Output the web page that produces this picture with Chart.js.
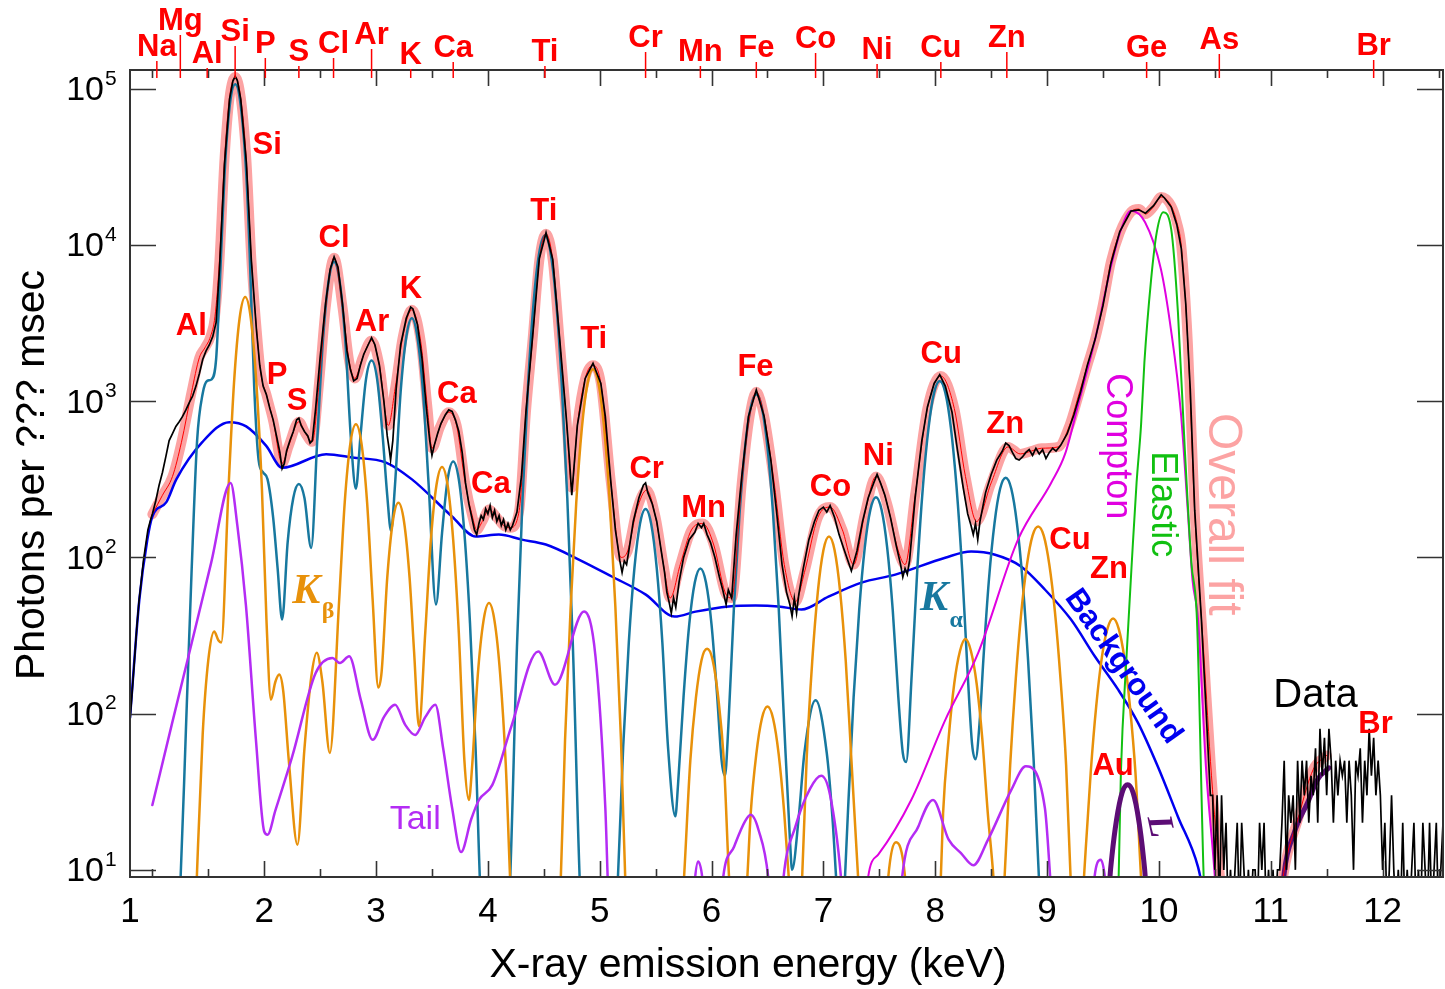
<!DOCTYPE html>
<html>
<head>
<meta charset="utf-8">
<script src="https://cdn.jsdelivr.net/npm/chart.js@4.4.1/dist/chart.umd.min.js"></script>
<style>
  html, body { margin: 0; padding: 0; background: #fff; }
  canvas { display: block; }
</style>
</head>
<body>
<canvas id="chart" width="1445" height="989" style="width:1445px;height:989px"></canvas>
<script>
// values: [energy keV, photons]
const fitCurve = [[1.00,189],[1.09,250],[1.18,330],[1.26,546],[1.35,1140],[1.42,1900],[1.47,2200],[1.52,2600],[1.56,3500],[1.60,8000],[1.645,35500],[1.69,88000],[1.741,119000],[1.79,88000],[1.84,35500],[1.885,8100],[1.93,3000],[1.97,1500],[2.02,1100],[2.08,750],[2.16,400],[2.22,520],[2.31,740],[2.37,620],[2.43,550],[2.49,1300],[2.55,4000],[2.625,8300],[2.70,4000],[2.76,1800],[2.81,1400],[2.88,1900],[2.96,2450],[3.03,1700],[3.11,700],[3.17,1200],[3.24,2600],[3.32,3850],[3.40,2400],[3.46,900],[3.50,500],[3.57,680],[3.65,850],[3.72,700],[3.80,290],[3.86,185],[3.90,150],[3.95,170],[4.01,203],[4.08,180],[4.14,160],[4.20,155],[4.28,200],[4.34,850],[4.40,2500],[4.46,8000],[4.518,11800],[4.58,8000],[4.64,2500],[4.70,800],[4.75,280],[4.80,700],[4.87,1400],[4.94,1700],[5.01,1300],[5.10,300],[5.19,100],[5.25,110],[5.33,200],[5.42,270],[5.50,180],[5.57,90],[5.63,55],[5.72,90],[5.82,150],[5.92,165],[6.02,120],[6.12,60],[6.18,55],[6.27,300],[6.34,800],[6.40,1150],[6.47,800],[6.56,300],[6.65,90],[6.75,52],[6.83,80],[6.95,180],[7.06,210],[7.17,150],[7.27,90],[7.37,190],[7.47,330],[7.57,220],[7.67,110],[7.73,90],[7.82,250],[7.93,900],[8.05,1450],[8.17,900],[8.27,330],[8.37,170],[8.50,300],[8.65,510],[8.76,460],[8.86,480],[8.95,500],[9.10,510],[9.20,700],[9.28,1080],[9.36,1700],[9.43,2500],[9.50,4200],[9.57,7800],[9.65,12000],[9.75,16300],[9.82,17000],[9.88,15800],[9.95,17500],[10.02,20300],[10.11,17800],[10.16,14000],[10.20,9860],[10.26,2250],[10.32,194],[10.40,25],[10.47,4],[10.54,1],[10.60,0.4],[11.06,0.4],[11.10,0.8],[11.25,2.2],[11.38,4.4],[11.50,5.4]];

const dataMain = [[0.80,9],[0.82,14],[0.84,22],[0.86,35],[0.88,52],[0.90,70],[0.92,95],[0.94,120],[0.96,150],[0.98,170],[1.00,190],[1.03,230],[1.06,290],[1.09,350],[1.12,440],[1.15,560],[1.18,620],[1.21,690],[1.24,740],[1.27,800],[1.30,880],[1.33,980],[1.36,1080],[1.39,1250],[1.42,1500],[1.45,1850],[1.48,2100],[1.51,2300],[1.54,2600],[1.57,3200],[1.60,7000],[1.645,33000],[1.69,86000],[1.72,112000],[1.741,120000],[1.76,113000],[1.79,86000],[1.84,34000],[1.885,8000],[1.93,2900],[1.96,1700],[1.99,1250],[2.02,1100],[2.05,900],[2.08,760],[2.11,600],[2.14,470],[2.16,370],[2.18,400],[2.20,480],[2.23,560],[2.26,640],[2.29,760],[2.31,780],[2.33,700],[2.36,640],[2.39,600],[2.41,540],[2.43,560],[2.46,900],[2.50,1900],[2.55,4300],[2.59,7000],[2.625,8400],[2.66,7200],[2.70,4200],[2.74,2100],[2.77,1600],[2.80,1350],[2.83,1400],[2.86,1700],[2.89,2000],[2.93,2300],[2.96,2550],[2.99,2300],[3.03,1700],[3.07,1000],[3.10,600],[3.12,480],[3.13,420],[3.15,560],[3.18,1200],[3.22,2300],[3.27,3400],[3.31,4000],[3.33,3900],[3.37,3100],[3.41,1900],[3.45,900],[3.48,560],[3.50,450],[3.52,520],[3.55,620],[3.58,720],[3.62,820],[3.65,880],[3.68,860],[3.71,760],[3.74,640],[3.77,470],[3.80,300],[3.83,220],[3.86,175],[3.88,150],[3.90,140],[3.92,165],[3.94,185],[3.96,175],[3.98,205],[4.00,190],[4.02,215],[4.04,180],[4.06,200],[4.08,170],[4.10,185],[4.12,160],[4.14,175],[4.16,150],[4.18,165],[4.20,150],[4.22,160],[4.26,195],[4.30,330],[4.34,850],[4.40,2600],[4.46,8200],[4.52,12000],[4.58,8100],[4.64,2600],[4.70,800],[4.73,420],[4.75,250],[4.77,380],[4.80,700],[4.87,1400],[4.94,1750],[5.01,1300],[5.05,800],[5.10,300],[5.14,150],[5.16,120],[5.18,95],[5.20,80],[5.22,95],[5.24,90],[5.26,110],[5.30,170],[5.35,240],[5.39,290],[5.41,300],[5.43,260],[5.47,220],[5.51,170],[5.55,110],[5.58,80],[5.60,60],[5.62,52],[5.64,44],[5.66,55],[5.68,48],[5.71,70],[5.75,100],[5.80,130],[5.85,145],[5.88,165],[5.91,155],[5.93,165],[5.96,140],[5.99,125],[6.03,100],[6.07,75],[6.10,62],[6.13,50],[6.15,62],[6.18,55],[6.22,140],[6.27,330],[6.33,800],[6.40,1180],[6.47,800],[6.53,420],[6.58,200],[6.63,90],[6.67,60],[6.70,50],[6.72,42],[6.74,55],[6.76,44],[6.78,58],[6.82,85],[6.87,130],[6.92,170],[6.96,200],[7.00,210],[7.03,195],[7.06,215],[7.10,180],[7.14,140],[7.18,115],[7.22,95],[7.25,82],[7.27,92],[7.30,110],[7.35,170],[7.40,240],[7.45,300],[7.48,340],[7.51,300],[7.55,250],[7.60,180],[7.65,120],[7.69,90],[7.71,75],[7.73,85],[7.75,78],[7.77,95],[7.82,240],[7.88,560],[7.93,920],[7.99,1300],[8.04,1480],[8.09,1250],[8.15,850],[8.20,480],[8.25,280],[8.29,190],[8.32,160],[8.34,140],[8.36,165],[8.38,130],[8.40,170],[8.45,260],[8.50,340],[8.55,420],[8.60,480],[8.63,540],[8.66,520],[8.69,470],[8.72,430],[8.75,420],[8.78,440],[8.81,470],[8.84,490],[8.87,450],[8.90,500],[8.93,460],[8.96,490],[8.99,430],[9.02,470],[9.05,500],[9.08,480],[9.12,520],[9.18,620],[9.24,820],[9.30,1150],[9.36,1700],[9.43,2500],[9.50,4100],[9.57,7600],[9.65,12200],[9.75,16500],[9.82,16800],[9.88,16000],[9.95,17800],[10.02,21000],[10.05,20000],[10.11,17500],[10.16,13500],[10.20,9500],[10.24,4200],[10.28,1200],[10.32,200],[10.38,40],[10.43,8],[10.46,3]];

// counts past the elastic peak, one every 0.02 keV from 10.48 keV (0.5 = empty channel)
const tailStart = 10.48, tailStep = 0.02;
const dataTail = [3,1,3,0.5,3,1,2,0.5,1,0.5,
  1,2,0.5,2,1,0.5,1,0.5,1,1,
  0.5,2,1,2,0.5,1,0.5,1,0.5,1,
  1,2,5,1,3,2,3,1,5,2,
  5,3,5,2,4,3,6,2,8,4,
  7,3,8,5,2,5,3,5,4,5,
  2,5,3,1,5,4,6,2,5,3,
  8,4,7,3,5,3,1,2,0.5,1,
  3,1,0.5,1,0.5,2,0.5,1,0.5,1,
  2,0.5,1,0.5,2,1,0.5,2,0.5,1,
  2,0.5,1,2];

const background = [[0.80,9.4],[0.884,54],[0.955,130],[1.0,183],[1.125,226],[1.214,316],[1.446,547],[1.688,735],[1.839,690],[2.018,518],[2.161,375],[2.554,458],[2.786,437],[3.089,405],[3.321,316],[3.679,183],[3.892,136],[4.098,140],[4.304,130],[4.518,121],[4.813,97],[5.108,75.5],[5.412,57.8],[5.67,41.8],[5.857,45],[6.152,48.6],[6.393,49.3],[6.598,48.6],[6.804,46.4],[7.045,56.1],[7.34,69],[7.643,77.6],[8.089,99.6],[8.321,109],[8.535,104],[8.767,87.6],[8.982,62.1],[9.214,40],[9.428,23.2],[9.634,14.3],[9.812,8.76],[9.991,4.57],[10.17,2.19],[10.35,1.04],[10.44,0.5]];

const kAlpha = [[1.22,0.4],[1.25,0.8],[1.30,7.9],[1.35,79],[1.40,560],[1.45,1120],[1.49,1350],[1.53,1380],[1.57,1860],[1.60,5000],[1.645,28000],[1.69,76000],[1.741,107000],[1.79,78000],[1.84,28000],[1.87,8900],[1.91,1260],[1.95,420],[1.99,350],[2.03,316],[2.08,180],[2.12,85],[2.16,40],[2.21,126],[2.26,240],[2.31,295],[2.36,240],[2.42,115],[2.475,580],[2.525,2450],[2.575,5800],[2.625,7800],[2.675,5800],[2.725,2450],[2.775,580],[2.82,275],[2.86,590],[2.91,1380],[2.96,1820],[3.01,1380],[3.06,590],[3.10,250],[3.134,148],[3.17,295],[3.22,1150],[3.27,2570],[3.32,3400],[3.37,2570],[3.42,1150],[3.47,295],[3.536,50],[3.59,143],[3.64,316],[3.69,412],[3.74,316],[3.79,143],[3.84,38],[3.89,6],[3.94,0.55],[3.97,0.4],[4.16,0.4],[4.19,0.6],[4.26,27],[4.31,240],[4.36,1300],[4.41,4400],[4.46,9000],[4.51,11500],[4.56,9000],[4.61,4400],[4.66,1300],[4.71,240],[4.76,27],[4.83,0.6],[4.86,0.4],[5.13,0.4],[5.16,0.8],[5.21,6.2],[5.26,28.5],[5.31,85],[5.36,164],[5.41,204],[5.46,164],[5.51,85],[5.56,28.5],[5.61,6.2],[5.676,2.2],[5.70,3.5],[5.75,13],[5.80,37],[5.85,69],[5.90,85],[5.95,69],[6.00,37],[6.05,13],[6.09,5],[6.12,4],[6.15,8.3],[6.20,48],[6.25,190],[6.30,507],[6.35,912],[6.40,1110],[6.45,912],[6.50,507],[6.55,190],[6.60,48],[6.65,8.3],[6.70,1.6],[6.72,1.0],[6.78,2.2],[6.83,5.6],[6.93,12.2],[7.03,5.6],[7.08,2.2],[7.13,0.6],[7.16,0.4],[7.17,0.4],[7.19,0.8],[7.22,2.4],[7.27,12.7],[7.32,46],[7.37,116],[7.42,202],[7.47,243],[7.52,202],[7.57,116],[7.62,46],[7.67,12.7],[7.71,5.6],[7.74,4.9],[7.79,18],[7.84,85],[7.89,285],[7.94,676],[7.99,1135],[8.04,1350],[8.09,1135],[8.14,676],[8.19,285],[8.24,85],[8.29,18],[8.33,6.3],[8.36,5.1],[8.40,9.5],[8.43,22],[8.48,72],[8.53,166],[8.58,275],[8.63,324],[8.68,275],[8.73,166],[8.78,72],[8.83,22],[8.88,5],[8.93,0.8],[8.96,0.4]];

const kBeta = [[1.38,0.4],[1.40,1.0],[1.45,7.4],[1.50,22],[1.553,33.6],[1.59,29.5],[1.616,28.5],[1.68,270],[1.73,1310],[1.78,3400],[1.83,4650],[1.88,3400],[1.93,1310],[1.98,270],[2.02,40],[2.06,12.3],[2.10,16],[2.134,17.8],[2.17,14],[2.22,5],[2.297,1.45],[2.36,6],[2.42,17],[2.47,24.5],[2.52,16],[2.587,5.6],[2.67,53],[2.72,225],[2.77,535],[2.82,713],[2.87,535],[2.92,225],[2.97,53],[3.02,14.7],[3.05,18.6],[3.10,74],[3.15,170],[3.20,224],[3.25,170],[3.30,74],[3.34,25],[3.384,8.3],[3.44,33],[3.49,129],[3.54,290],[3.59,380],[3.64,290],[3.69,129],[3.74,33],[3.79,5],[3.83,2.8],[3.86,4.7],[3.91,17.8],[3.96,39],[4.01,51],[4.06,39],[4.11,17.8],[4.16,4.7],[4.21,0.6],[4.25,0.4],[4.62,0.4],[4.65,0.8],[4.69,6.8],[4.74,48],[4.79,224],[4.84,670],[4.89,1290],[4.94,1600],[4.99,1290],[5.04,670],[5.09,224],[5.14,48],[5.19,6.8],[5.23,0.8],[5.26,0.4],[5.72,0.4],[5.75,0.8],[5.81,5],[5.86,12.6],[5.91,22],[5.96,26],[6.01,22],[6.06,12.6],[6.11,5],[6.16,0.8],[6.20,0.4],[6.29,0.4],[6.32,0.9],[6.35,2.3],[6.40,5.5],[6.45,9.3],[6.50,11.1],[6.55,9.3],[6.60,5.5],[6.65,2.3],[6.69,0.9],[6.72,0.4],[6.78,0.4],[6.81,0.9],[6.85,5.1],[6.90,21.6],[6.95,60],[7.00,111],[7.05,136],[7.10,111],[7.15,60],[7.20,21.6],[7.25,5.1],[7.31,0.9],[7.34,0.4],[7.55,0.4],[7.58,0.9],[7.65,1.5],[7.73,0.9],[7.76,0.4],[8.02,0.4],[8.05,0.9],[8.07,2.3],[8.12,7],[8.17,15.6],[8.22,25],[8.27,30],[8.32,25],[8.37,15.6],[8.42,7],[8.47,2.3],[8.52,0.9],[8.55,0.4],[8.59,0.4],[8.62,0.9],[8.67,4.7],[8.72,16.7],[8.77,45],[8.82,90],[8.87,138],[8.92,158],[8.97,138],[9.02,90],[9.07,45],[9.12,16.7],[9.17,4.7],[9.21,0.9],[9.24,0.4],[9.30,0.4],[9.33,0.9],[9.39,4.2],[9.44,11.3],[9.49,23],[9.54,35],[9.59,40.6],[9.64,35],[9.69,23],[9.74,11.3],[9.79,4.2],[9.84,0.9],[9.87,0.4]];

const tailComp = [[1.00,2.6],[1.175,8.6],[1.35,28],[1.525,92],[1.70,300],[1.76,160],[1.837,49],[1.926,6.8],[2.0,1.76],[2.03,1.68],[2.10,2.4],[2.25,5.3],[2.46,18.2],[2.61,22.7],[2.677,21.1],[2.76,23.3],[2.863,12.3],[2.97,6.8],[3.07,9.5],[3.17,11.4],[3.26,8.5],[3.35,7.3],[3.44,9.5],[3.53,11.4],[3.60,6],[3.68,2.5],[3.76,1.3],[3.85,2.1],[3.92,2.8],[4.04,3.5],[4.21,8.3],[4.45,25],[4.60,15.3],[4.86,45],[4.962,23.3],[5.05,2.5],[5.08,0.6],[5.10,0.4],[5.82,0.4],[5.85,0.85],[5.88,1.13],[5.92,0.85],[5.95,0.4],[6.07,0.4],[6.10,0.85],[6.20,1.4],[6.30,2.05],[6.35,2.25],[6.42,1.8],[6.51,0.85],[6.54,0.4],[6.61,0.4],[6.64,0.85],[6.75,1.9],[6.88,3.3],[6.98,4.0],[7.06,3.0],[7.16,0.85],[7.19,0.4],[7.67,0.4],[7.70,0.85],[7.85,1.9],[7.98,2.8],[8.12,1.56],[8.23,1.28],[8.34,1.07],[8.47,1.55],[8.68,3.25],[8.81,4.6],[8.98,2.5],[9.03,0.85],[9.06,0.4],[9.39,0.4],[9.42,0.85],[9.48,1.16],[9.52,0.85],[9.55,0.4]];

const compton = [[7.37,0.4],[7.40,0.9],[7.49,1.25],[7.785,2.8],[8.089,9.1],[8.384,24.5],[8.74,130],[9.036,300],[9.161,460],[9.278,950],[9.43,2500],[9.571,7300],[9.66,12500],[9.75,16600],[9.876,14000],[10.018,7000],[10.107,2900],[10.196,850],[10.259,195],[10.30,72],[10.35,40],[10.42,4.6],[10.50,0.9],[10.53,0.4]];

const elastic = [[9.62,0.4],[9.64,0.9],[9.66,4.2],[9.71,23],[9.76,100],[9.80,300],[9.84,700],[9.87,1770],[9.93,6000],[9.98,12000],[10.04,16200],[10.11,12600],[10.17,3700],[10.23,515],[10.29,93],[10.34,40],[10.40,0.9],[10.42,0.4]];

const auL = [[9.54,0.4],[9.56,0.85],[9.58,1.23],[9.62,2.07],[9.67,3.1],[9.72,3.5],[9.77,3.1],[9.82,2.07],[9.86,1.23],[9.88,0.85],[9.90,0.4]];
const brL = [[11.08,0.4],[11.12,0.95],[11.21,1.73],[11.33,2.7],[11.42,3.8],[11.52,4.5]];

const xTicks = [0.8, 2, 3, 4, 5, 6, 7, 8, 9, 10, 11, 12];
const xTickText = ['1','2','3','4','5','6','7','8','9','10','11','12'];
const yTicks = [1, 10, 100, 1000, 10000, 100000];
const yTickExp = ['1','2','2','3','4','5'];

const elements = ['Na','Mg','Al','Si','P','S','Cl','Ar','K','Ca','Ti','Cr','Mn','Fe','Co','Ni','Cu','Zn','Ge','As','Br'];
const elementKeV = [1.04,1.25,1.49,1.74,2.01,2.31,2.62,2.96,3.31,3.69,4.51,5.41,5.90,6.40,6.93,7.48,8.05,8.64,9.89,10.54,11.92];
const elementLabelY = [47,21,54,32,44,52,44,35,55,48,52,38,52,48,39,50,48,38,48,40,46];

// peak names inside the plot: [text, keV, photons]
const peakLabels = [['Al',1.348,3030],['Si',2.027,43100],['P',2.116,1470],['S',2.295,1000],['Cl',2.625,11100],['Ar',2.964,3210],['K',3.312,5220],['Ca',3.723,1110],['Ca',4.027,294],['Ti',4.50,16500],['Ti',4.946,2500],['Cr',5.42,366],['Mn',5.928,206],['Fe',6.393,1650],['Co',7.063,281],['Ni',7.491,444],['Cu',8.054,2000],['Zn',8.625,712],['Cu',9.205,128],['Zn',9.554,84],['Au',9.59,4.6],['Br',11.937,8.5]];

const SANS = '"Liberation Sans", Arial, Helvetica, sans-serif';
const SERIF = '"Liberation Serif", "Times New Roman", serif';

const C = {
  fit: '#fca3a3', data: '#000000', red: '#ff0000', ka: '#17789f', kb: '#e8910a',
  tail: '#b42cf4', bg: '#0000f0', compton: '#e000e0', elastic: '#11c011', L: '#5c0d75'
};

function pts(arr) { return arr.map(p => ({x: p[0], y: p[1]})); }

function series(arr, color, width, order, smooth) {
  return {
    data: pts(arr), borderColor: color, borderWidth: width, order: order,
    pointRadius: 0, fill: false, clip: 0,
    cubicInterpolationMode: smooth ? 'monotone' : 'default',
    borderJoinStyle: 'round', borderCapStyle: 'round'
  };
}

const dataPts = pts(dataMain).concat(dataTail.map((v, i) => ({x: +(tailStart + i * tailStep).toFixed(2), y: v})));
const dataSet = series([], C.data, 1.7, 0, false);
dataSet.data = dataPts;
dataSet.borderJoinStyle = 'miter';

function txt(ctx, s, px, py, font, color, rot) {
  ctx.save();
  ctx.translate(px, py);
  if (rot) ctx.rotate(rot * Math.PI / 180);
  ctx.font = font;
  ctx.fillStyle = color;
  ctx.textAlign = 'center';
  ctx.textBaseline = 'middle';
  ctx.fillText(s, 0, 0);
  ctx.restore();
}

const overlay = {
  id: 'overlay',
  afterDatasetsDraw(chart) {
    const ctx = chart.ctx, x = chart.scales.x, y = chart.scales.y;
    const X = v => x.getPixelForValue(v), Y = v => y.getPixelForValue(v);

    peakLabels.forEach(p => txt(ctx, p[0], X(p[1]), Y(p[2]), 'bold 31px ' + SANS, C.red));

    txt(ctx, 'Compton', X(9.625), Y(515), '36px ' + SANS, C.compton, 90);
    txt(ctx, 'Elastic', X(10.027), Y(219), '36px ' + SANS, C.elastic, 90);
    txt(ctx, 'Overall fit', X(10.57), Y(189), '48px ' + SANS, C.fit, 90);
    txt(ctx, 'Background', X(9.68), Y(20), 'bold 31px ' + SANS, C.bg, 55);
    txt(ctx, 'Data', X(11.40), Y(12.9), '40px ' + SANS, '#000');
    txt(ctx, 'Tail', X(3.35), Y(2.09), '34px ' + SANS, C.tail);
    txt(ctx, 'L', X(10.0), Y(1.9), 'bold italic 36px ' + SERIF, C.L, 78);

    // K-beta and K-alpha captions
    txt(ctx, 'K', X(2.375), Y(60), 'bold italic 42px ' + SERIF, C.kb);
    txt(ctx, 'β', X(2.375) + 22, Y(60) + 20, 'bold 24px ' + SERIF, C.kb);
    txt(ctx, 'K', X(7.99), Y(54), 'bold italic 42px ' + SERIF, C.ka);
    txt(ctx, 'α', X(7.99) + 22, Y(54) + 22, 'bold 24px ' + SERIF, C.ka);
  },
  afterDraw(chart) {
    const ctx = chart.ctx, a = chart.chartArea, x = chart.scales.x, y = chart.scales.y;
    ctx.save();
    ctx.strokeStyle = '#333';
    ctx.lineWidth = 2;
    ctx.strokeRect(a.left, a.top, a.right - a.left, a.bottom - a.top);

    // inward ticks, every 0.5 keV on bottom and top
    ctx.lineWidth = 1.6;
    ctx.beginPath();
    for (let v = 1; v <= 12.5; v += 0.5) {
      const px = Math.round(x.getPixelForValue(v)) + 0.5;
      const len = (v >= 2 && v % 1 === 0) ? 16 : 8;
      ctx.moveTo(px, a.bottom); ctx.lineTo(px, a.bottom - len);
      ctx.moveTo(px, a.top); ctx.lineTo(px, a.top + len);
    }
    yTicks.forEach(v => {
      const py = Math.round(y.getPixelForValue(v)) + 0.5;
      ctx.moveTo(a.left, py); ctx.lineTo(a.left + 26, py);
      ctx.moveTo(a.right, py); ctx.lineTo(a.right - 26, py);
    });
    ctx.stroke();

    // y tick labels 10^n
    ctx.fillStyle = '#000';
    yTicks.forEach((v, i) => {
      const py = y.getPixelForValue(v);
      ctx.font = '34px ' + SANS;
      ctx.textAlign = 'right';
      ctx.textBaseline = 'middle';
      ctx.fillText('10', 104, py + 2);
      ctx.font = '21px ' + SANS;
      ctx.textAlign = 'left';
      ctx.fillText(yTickExp[i], 105, py - 10);
    });

    // axis titles
    txt(ctx, 'X-ray emission energy (keV)', 748, 966, '41px ' + SANS, '#000');
    txt(ctx, 'Photons per ??? msec', 33, 475, '41px ' + SANS, '#000', -90);

    // element markers along the top axis
    ctx.strokeStyle = C.red;
    ctx.lineWidth = 1.5;
    elements.forEach((el, i) => {
      const px = x.getPixelForValue(elementKeV[i]);
      const ly = elementLabelY[i];
      ctx.beginPath();
      ctx.moveTo(px, ly + 14);
      ctx.lineTo(px, a.top + 8);
      ctx.stroke();
      txt(ctx, el, px, ly, 'bold 31px ' + SANS, C.red);
    });
    ctx.restore();
  }
};

new Chart(document.getElementById('chart'), {
  type: 'line',
  data: {
    datasets: [
      dataSet,
      series(fitCurve, C.red, 1, 1, true),
      series(auL, C.L, 5, 2, true),
      series(brL, C.L, 5, 2, true),
      series(elastic, C.elastic, 2, 3, true),
      series(compton, C.compton, 2, 4, true),
      series(tailComp, C.tail, 2.5, 5, true),
      series(kBeta, C.kb, 2.5, 6, true),
      series(kAlpha, C.ka, 2.5, 7, true),
      series(background, C.bg, 2.5, 8, true),
      series(fitCurve, C.fit, 10, 9, true)
    ]
  },
  options: {
    responsive: false,
    devicePixelRatio: 1,
    animation: false,
    events: [],
    layout: { padding: { top: 70, right: 2, left: 0, bottom: 0 } },
    plugins: { legend: { display: false }, tooltip: { enabled: false }, title: { display: false } },
    scales: {
      x: {
        type: 'linear', min: 0.8, max: 12.54,
        grid: { display: false, drawTicks: false },
        border: { display: false },
        afterBuildTicks: s => { s.ticks = xTicks.map(v => ({ value: v })); },
        afterFit: s => { s.height = 112; },
        ticks: {
          autoSkip: false, maxRotation: 0, padding: 14, color: '#000',
          font: { family: SANS, size: 35 },
          callback: (v, i) => xTickText[i]
        }
      },
      y: {
        type: 'logarithmic', min: 0.9, max: 132000,
        grid: { display: false, drawTicks: false },
        border: { display: false },
        afterBuildTicks: s => { s.ticks = yTicks.map(v => ({ value: v })); },
        afterFit: s => { s.width = 130; },
        ticks: { display: false }
      }
    }
  },
  plugins: [overlay]
});
</script>
</body>
</html>
